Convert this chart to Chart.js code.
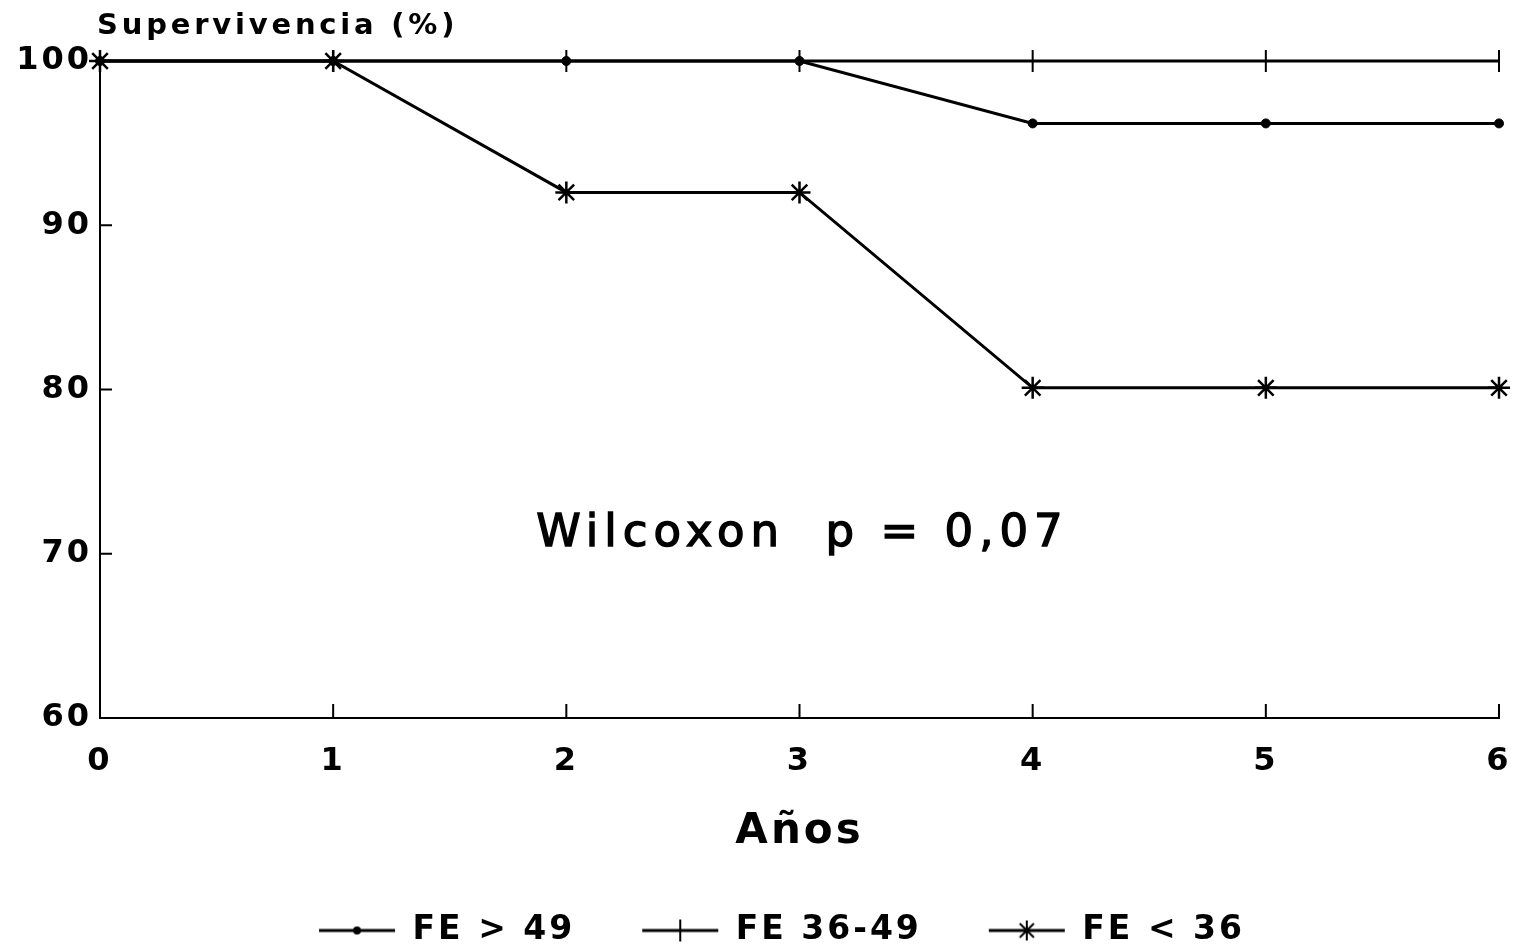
<!DOCTYPE html>
<html>
<head>
<meta charset="utf-8">
<script src="https://cdn.jsdelivr.net/npm/chart.js@4.4.1/dist/chart.umd.min.js"></script>
<style>
  html, body { margin: 0; padding: 0; background: #fff; }
  #wrap { width: 1518px; height: 949px; position: relative; }
</style>
</head>
<body>
<div id="wrap"><canvas id="survival"></canvas></div>
<script>
// survival by ejection fraction group, per year of follow-up
const years = [0, 1, 2, 3, 4, 5, 6];
const feOver49 = [100, 100, 100, 100, 96.2, 96.2, 96.2];
const fe36to49 = [100, 100, 100, 100, 100, 100, 100];
const feUnder36 = [100, 100, 92, 92, 80.1, 80.1, 80.1];
const yTicks = [60, 70, 80, 90, 100];
const seriesLabels = ['FE > 49', 'FE 36-49', 'FE < 36'];

const FONT = 'DejaVu Sans';
const INK = '#000';
const PAD_BOTTOM = -8;
const AXIS_BOTTOM = 718;
const LEGEND_SHIFT = 32;

function toPoints(values) {
    return years.map((x, i) => ({ x, y: values[i] }));
}

// small line+marker swatches for the legend
function legendIcon(kind) {
    const c = document.createElement('canvas');
    c.width = 78;
    c.height = 26;
    const g = c.getContext('2d');
    const cx = 39, cy = 13;
    g.strokeStyle = INK;
    g.fillStyle = INK;
    g.lineWidth = 3;
    g.beginPath();
    g.moveTo(1, cy);
    g.lineTo(77, cy);
    g.stroke();
    g.lineWidth = 2;
    if (kind === 'dot') {
        g.beginPath();
        g.arc(cx, cy, 4, 0, Math.PI * 2);
        g.fill();
    } else if (kind === 'bar') {
        g.beginPath();
        g.moveTo(cx, 2);
        g.lineTo(cx, 24);
        g.stroke();
    } else {
        g.beginPath();
        for (let a = 0; a < 4; a++) {
            const ang = a * Math.PI / 4;
            g.moveTo(cx - Math.sin(ang) * 10, cy - Math.cos(ang) * 10);
            g.lineTo(cx + Math.sin(ang) * 10, cy + Math.cos(ang) * 10);
        }
        g.stroke();
    }
    return c;
}
const legendIcons = [legendIcon('dot'), legendIcon('bar'), legendIcon('star')];

// inward tick marks, caption text and title
const decorations = {
    id: 'decorations',
    beforeLayout(chart) {
        chart.ctx.letterSpacing = '3px';
    },
    afterLayout(chart) {
        // nudge the legend row a bit to the right
        if (chart.legend) {
            chart.legend.left += LEGEND_SHIFT;
            chart.legend.right += LEGEND_SHIFT;
        }
    },
    beforeDraw(chart) {
        chart.ctx.letterSpacing = '3px';
    },
    beforeDatasetsDraw(chart) {
        const { ctx, chartArea, scales } = chart;
        ctx.save();
        ctx.strokeStyle = INK;
        ctx.lineWidth = 2;
        ctx.beginPath();
        scales.y.ticks.forEach(t => {
            const py = scales.y.getPixelForValue(t.value);
            ctx.moveTo(chartArea.left, py);
            ctx.lineTo(chartArea.left + 12, py);
        });
        scales.x.ticks.forEach(t => {
            const px = scales.x.getPixelForValue(t.value);
            ctx.moveTo(px, chartArea.bottom);
            ctx.lineTo(px, chartArea.bottom - 14);
        });
        ctx.stroke();
        ctx.restore();
    },
    afterDatasetsDraw(chart) {
        const { ctx, chartArea, scales } = chart;
        ctx.save();
        ctx.fillStyle = INK;
        ctx.strokeStyle = INK;
        ctx.textBaseline = 'alphabetic';

        ctx.font = `bold 29px "${FONT}"`;
        ctx.letterSpacing = '3.8px';
        ctx.textAlign = 'left';
        ctx.fillText('Supervivencia (%)', chartArea.left - 3, 34);

        const note = 'Wilcoxon  p = 0,07';
        const nx = scales.x.getPixelForValue(3) + 3;
        const ny = scales.y.getPixelForValue(70.5);
        ctx.font = `45px "${FONT}"`;
        ctx.letterSpacing = '6px';
        ctx.textAlign = 'center';
        ctx.lineWidth = 1.4;
        ctx.fillText(note, nx, ny);
        ctx.strokeText(note, nx, ny);
        ctx.restore();
    }
};

new Chart(document.getElementById('survival'), {
    type: 'line',
    data: {
        datasets: [{
            label: seriesLabels[0],
            data: toPoints(feOver49),
            borderColor: INK,
            backgroundColor: INK,
            borderWidth: 3,
            pointStyle: 'circle',
            pointRadius: 4.5,
            pointBorderWidth: 1,
            order: 2
        }, {
            label: seriesLabels[1],
            data: toPoints(fe36to49),
            borderColor: INK,
            backgroundColor: INK,
            borderWidth: 3,
            pointStyle: 'line',
            pointRotation: 90,
            pointRadius: 11,
            pointBorderWidth: 2,
            order: 1
        }, {
            label: seriesLabels[2],
            data: toPoints(feUnder36),
            borderColor: INK,
            backgroundColor: INK,
            borderWidth: 3,
            pointStyle: 'star',
            pointRadius: 11,
            pointBorderWidth: 2.5,
            order: 0
        }]
    },
    options: {
        responsive: true,
        maintainAspectRatio: false,
        animation: false,
        layout: { padding: { top: 61, right: 19, left: 0, bottom: PAD_BOTTOM } },
        elements: { line: { tension: 0, fill: false } },
        datasets: { line: { clip: false } },
        scales: {
            x: {
                type: 'linear',
                min: 0,
                max: 6,
                grid: { display: false, drawTicks: false },
                border: { display: true, color: INK, width: 2 },
                ticks: {
                    stepSize: 1,
                    color: INK,
                    padding: 24,
                    font: { family: FONT, weight: 'bold', size: 32 }
                },
                title: {
                    display: true,
                    text: 'Años',
                    color: INK,
                    padding: { top: 41, bottom: -9 },
                    font: { family: FONT, weight: 'bold', size: 42 }
                },
                afterFit(scale) {
                    const legendH = scale.chart.legend ? scale.chart.legend.height : 0;
                    scale.height = 949 - PAD_BOTTOM - legendH - AXIS_BOTTOM;
                    scale.paddingLeft = 0;
                    scale.paddingRight = 0;
                }
            },
            y: {
                min: 60,
                max: 100,
                grid: { display: false, drawTicks: false },
                border: { display: true, color: INK, width: 2 },
                ticks: {
                    stepSize: 10,
                    color: INK,
                    padding: 8,
                    font: { family: FONT, weight: 'bold', size: 32 },
                    callback: v => (yTicks.includes(v) ? v : '')
                },
                afterFit(scale) {
                    scale.width = 100;
                }
            }
        },
        plugins: {
            tooltip: { enabled: false },
            legend: {
                position: 'bottom',
                labels: {
                    color: INK,
                    padding: 66,
                    usePointStyle: true,
                    pointStyleWidth: 78,
                    font: { family: FONT, weight: 'bold', size: 33 },
                    generateLabels: chart => chart.data.datasets.map((ds, i) => ({
                        text: ds.label,
                        pointStyle: legendIcons[i],
                        fillStyle: INK,
                        strokeStyle: INK,
                        lineWidth: 0,
                        fontColor: INK,
                        hidden: false,
                        datasetIndex: i
                    }))
                }
            }
        }
    },
    plugins: [decorations]
});
</script>
</body>
</html>
